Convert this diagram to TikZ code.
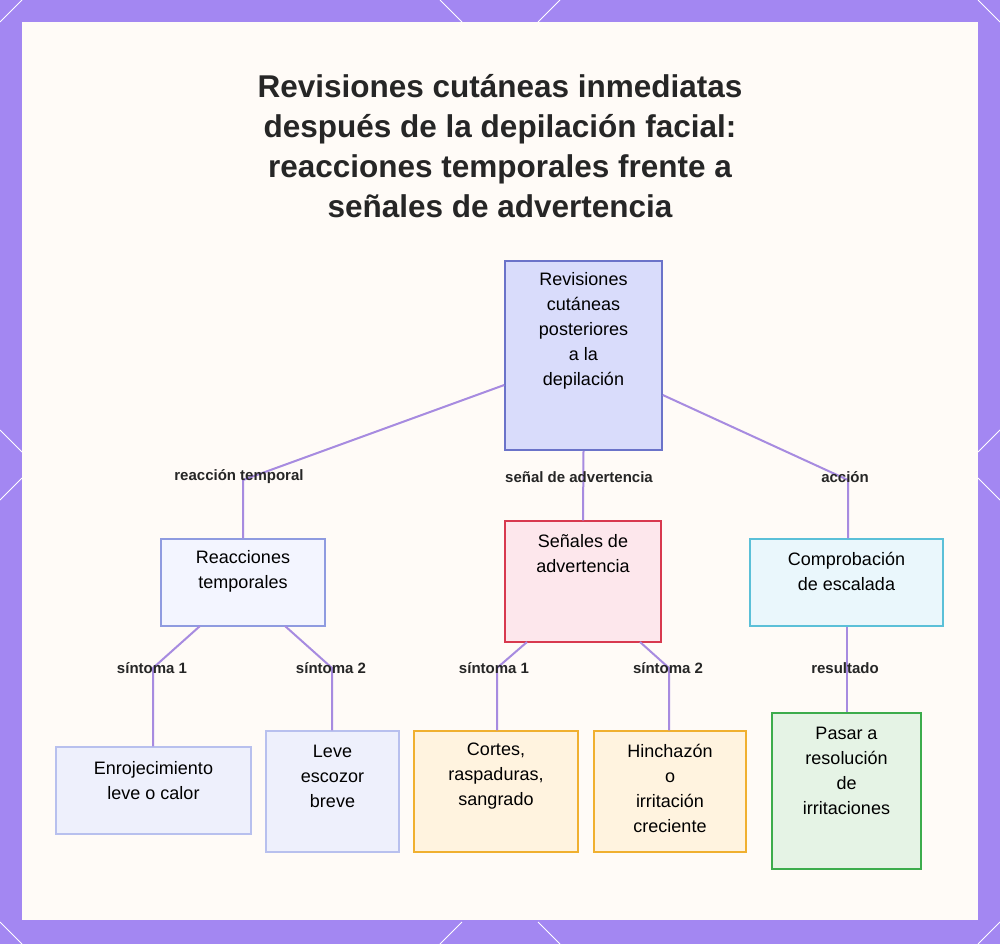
\documentclass[tikz,border=0pt]{standalone}
\usepackage{fontspec}
\setmainfont{Liberation Sans}
\begin{document}
\begin{tikzpicture}[x=1pt,y=-1pt,
 box/.style={draw,line width=1.5pt,inner sep=0},
 txt/.style={align=center,font=\fontsize{18}{25}\selectfont,inner sep=0},
 edge/.style={draw=edgec,line width=2pt},
 lab/.style={font=\bfseries\fontsize{15}{17}\selectfont,text=black!85}]
\definecolor{edgec}{HTML}{A78BE0}
\definecolor{purp}{HTML}{A387F2}
\useasboundingbox (0,0) rectangle (1000,944);
\fill[purp] (0,0) rectangle (1000,944);
\foreach \a/\b/\c/\d in {0/22/22/0, 978/0/1000/22, 0/922/22/944, 1000/922/978/944,
  440/0/462/22, 560/0/538/22, 440/944/462/922, 560/944/538/922,
  0/430/22/452, 0/500/22/478, 1000/430/978/452, 1000/500/978/478}
  \draw[white,line width=1pt] (\a,\b)--(\c,\d);
\fill[white!97!orange] (22,22) rectangle (978,920);
\node[font=\bfseries\fontsize{31.5}{40}\selectfont,align=center,text=black!85] (title) at (500,146)
 {Revisiones cutáneas inmediatas\\después de la depilación facial:\\reacciones temporales frente a\\señales de advertencia};
\def\bx#1#2#3#4#5#6#7#8#9{\node[box,draw=#6,fill=#7,minimum width=#3-#1,minimum height=#4-#2] (#5) at ({(#1+#3)/2},{(#2+#4)/2}) {};
 \node[txt] (#5t) at ({(#1+#3)/2},#8) {#9};}
\definecolor{rb}{HTML}{6B73C9}\definecolor{rf}{HTML}{D9DCFB}
\definecolor{lb}{HTML}{8F9BE0}\definecolor{lf}{HTML}{F3F5FF}
\definecolor{sb}{HTML}{D8394F}\definecolor{sf}{HTML}{FDE7EC}
\definecolor{cb}{HTML}{5BC0D8}\definecolor{cf}{HTML}{EAF7FC}
\definecolor{pb}{HTML}{B8C0EE}\definecolor{pf}{HTML}{EEF0FC}
\definecolor{ob}{HTML}{F0B030}\definecolor{of}{HTML}{FFF3DF}
\definecolor{gb}{HTML}{3CAC4C}\definecolor{gf}{HTML}{E5F3E5}
\bx{505}{261}{662}{450}{root}{rb}{rf}{331}{Revisiones\\cutáneas\\posteriores\\a la\\depilación}
\bx{161}{539}{325}{626}{rt}{lb}{lf}{571}{Reacciones\\temporales}
\bx{505}{521}{661}{642}{sa}{sb}{sf}{554}{Señales de\\advertencia}
\bx{750}{539}{943}{626}{ce}{cb}{cf}{571}{Comprobación\\de escalada}
\bx{56}{747}{251}{834}{e1}{pb}{pf}{781}{Enrojecimiento\\leve o calor}
\bx{266}{731}{399}{852}{e2}{pb}{pf}{776}{Leve\\escozor\\breve}
\bx{414}{731}{578}{852}{e3}{ob}{of}{776}{Cortes,\\raspaduras,\\sangrado}
\bx{594}{731}{746}{852}{e4}{ob}{of}{788}{Hinchazón\\o\\irritación\\creciente}
\bx{772}{713}{921}{869}{e5}{gb}{gf}{771}{Pasar a\\resolución\\de\\irritaciones}
\coordinate (k1) at (243,480); \coordinate (k2) at (848,480);
\path[edge] (root.west|-0,385) -- (k1) -- (rt.north-|k1);
\path[edge] (root.south) -- (sa.north);
\path[edge] (root.east|-0,395) -- (k2) -- (ce.north-|k2);
\coordinate (a1) at (153,668); \coordinate (a2) at (332,668);
\coordinate (a3) at (497,668); \coordinate (a4) at (669,668);
\path[edge] (200,626) -- (a1) -- (e1.north-|a1);
\path[edge] (285,626) -- (a2) -- (e2.north-|a2);
\path[edge] (527,642) -- (a3) -- (e3.north-|a3);
\path[edge] (640,642) -- (a4) -- (e4.north-|a4);
\path[edge] (ce.south) -- (e5.north-|ce.south);
\node[lab] (l1) at (239,477) {reacción temporal};
\node[lab] (l2) at (579,477) {señal de advertencia};
\node[lab] (l3) at (845,477) {acción};
\node[lab] (l4) at (152,668) {síntoma 1};
\node[lab] (l5) at (331,668) {síntoma 2};
\node[lab] (l6) at (494,668) {síntoma 1};
\node[lab] (l7) at (668,668) {síntoma 2};
\node[lab] (l8) at (845,668) {resultado};
\end{tikzpicture}
\end{document}
